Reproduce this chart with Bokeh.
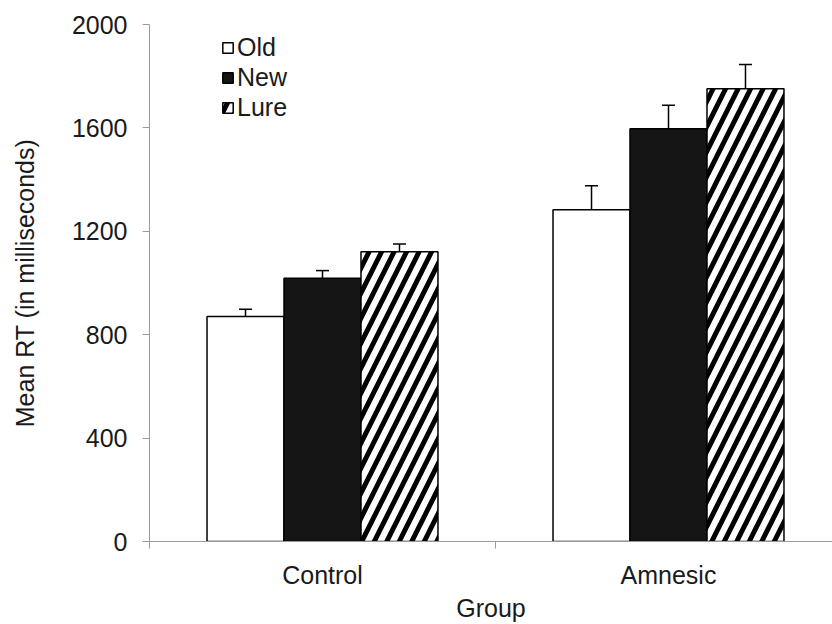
from bokeh.plotting import figure
from bokeh.models import (Range1d, FixedTicker, Whisker, TeeHead, ColumnDataSource,
                          Legend, LegendItem)
from bokeh.embed import file_html
from bokeh.resources import INLINE

# ---- data ----
groups = ["Control", "Amnesic"]
conditions = ["Old", "New", "Lure"]
old_means = [870, 1283]
new_means = [1018, 1597]
lure_means = [1121, 1751]
old_err = [28, 93]
new_err = [30, 91]
lure_err = [30, 94]
y_ticks = [0, 400, 800, 1200, 1600, 2000]

FONT = "Liberation Sans"
TXT = "#1a1a1a"
AX = "#9a9a9a"

p = figure(width=832, height=624, output_backend="svg", toolbar_location=None,
           x_range=Range1d(0, 683 / 346), y_range=Range1d(0, 2000),
           min_border_left=149, min_border_right=0, min_border_top=24,
           min_border_bottom=0)
p.outline_line_color = None
p.xgrid.visible = False
p.ygrid.visible = False
p.background_fill_color = "white"
p.border_fill_color = "white"

bw = 0.2225
offsets = [-bw, 0.0, bw]
series = [old_means, new_means, lure_means]
errs = [old_err, new_err, lure_err]
renderers = []
for k, (cond, vals, ee) in enumerate(zip(conditions, series, errs)):
    xs = [i + 0.5 + offsets[k] for i in range(len(groups))]
    src = ColumnDataSource(dict(x=xs, top=vals, upper=[v + e for v, e in zip(vals, ee)]))
    kw = dict(x="x", top="top", bottom=0, width=bw, source=src,
              line_color="black", line_width=1.5)
    if cond == "Old":
        r = p.vbar(fill_color="white", **kw)
    elif cond == "New":
        r = p.vbar(fill_color="#151515", **kw)
    else:
        r = p.vbar(fill_color="white", hatch_pattern="/", hatch_color="black",
                   hatch_scale=25, hatch_weight=5, **kw)
    renderers.append(r)
    w = Whisker(base="x", lower="top", upper="upper", source=src, dimension="height",
                line_color="black", line_width=1.5, lower_head=None,
                upper_head=TeeHead(size=13, line_color="black", line_width=1.5),
                level="overlay")
    p.add_layout(w)

# y axis
ya = p.yaxis[0]
ya.ticker = FixedTicker(ticks=y_ticks)
ya.axis_line_color = AX
ya.major_tick_line_color = AX
ya.major_tick_out = 7
ya.major_tick_in = 0
ya.minor_tick_line_color = None
ya.major_label_text_font = FONT
ya.major_label_text_font_size = "25px"
ya.major_label_text_color = TXT
ya.major_label_standoff = 15
ya.axis_label = "Mean RT (in milliseconds)"
ya.axis_label_text_font = FONT
ya.axis_label_text_font_size = "25px"
ya.axis_label_text_font_style = "normal"
ya.axis_label_text_color = TXT
ya.axis_label_standoff = 30

# x axis
xa = p.xaxis[0]
xa.ticker = FixedTicker(ticks=[i + 0.5 for i in range(len(groups))],
                        minor_ticks=list(range(len(groups) + 1)))
xa.major_label_overrides = {i + 0.5: g for i, g in enumerate(groups)}
xa.axis_line_color = AX
xa.major_tick_line_color = None
xa.major_tick_out = 0
xa.major_tick_in = 0
xa.minor_tick_line_color = AX
xa.minor_tick_out = 7
xa.minor_tick_in = 0
xa.major_label_text_font = FONT
xa.major_label_text_font_size = "25px"
xa.major_label_text_color = TXT
xa.major_label_standoff = 12
xa.axis_label = "Group"
xa.axis_label_text_font = FONT
xa.axis_label_text_font_size = "25px"
xa.axis_label_text_font_style = "normal"
xa.axis_label_text_color = TXT
xa.axis_label_standoff = 2

legend = Legend(items=[LegendItem(label=c, renderers=[r]) for c, r in zip(conditions, renderers)],
                location=(72, 419), orientation="vertical",
                label_text_font=FONT, label_text_font_size="25px", label_text_color=TXT,
                glyph_width=13, glyph_height=13, label_height=22, label_standoff=3,
                spacing=1, padding=0, margin=0,
                border_line_color=None, background_fill_alpha=0)
p.add_layout(legend)

open("out.html", "w").write(file_html(p, INLINE))
